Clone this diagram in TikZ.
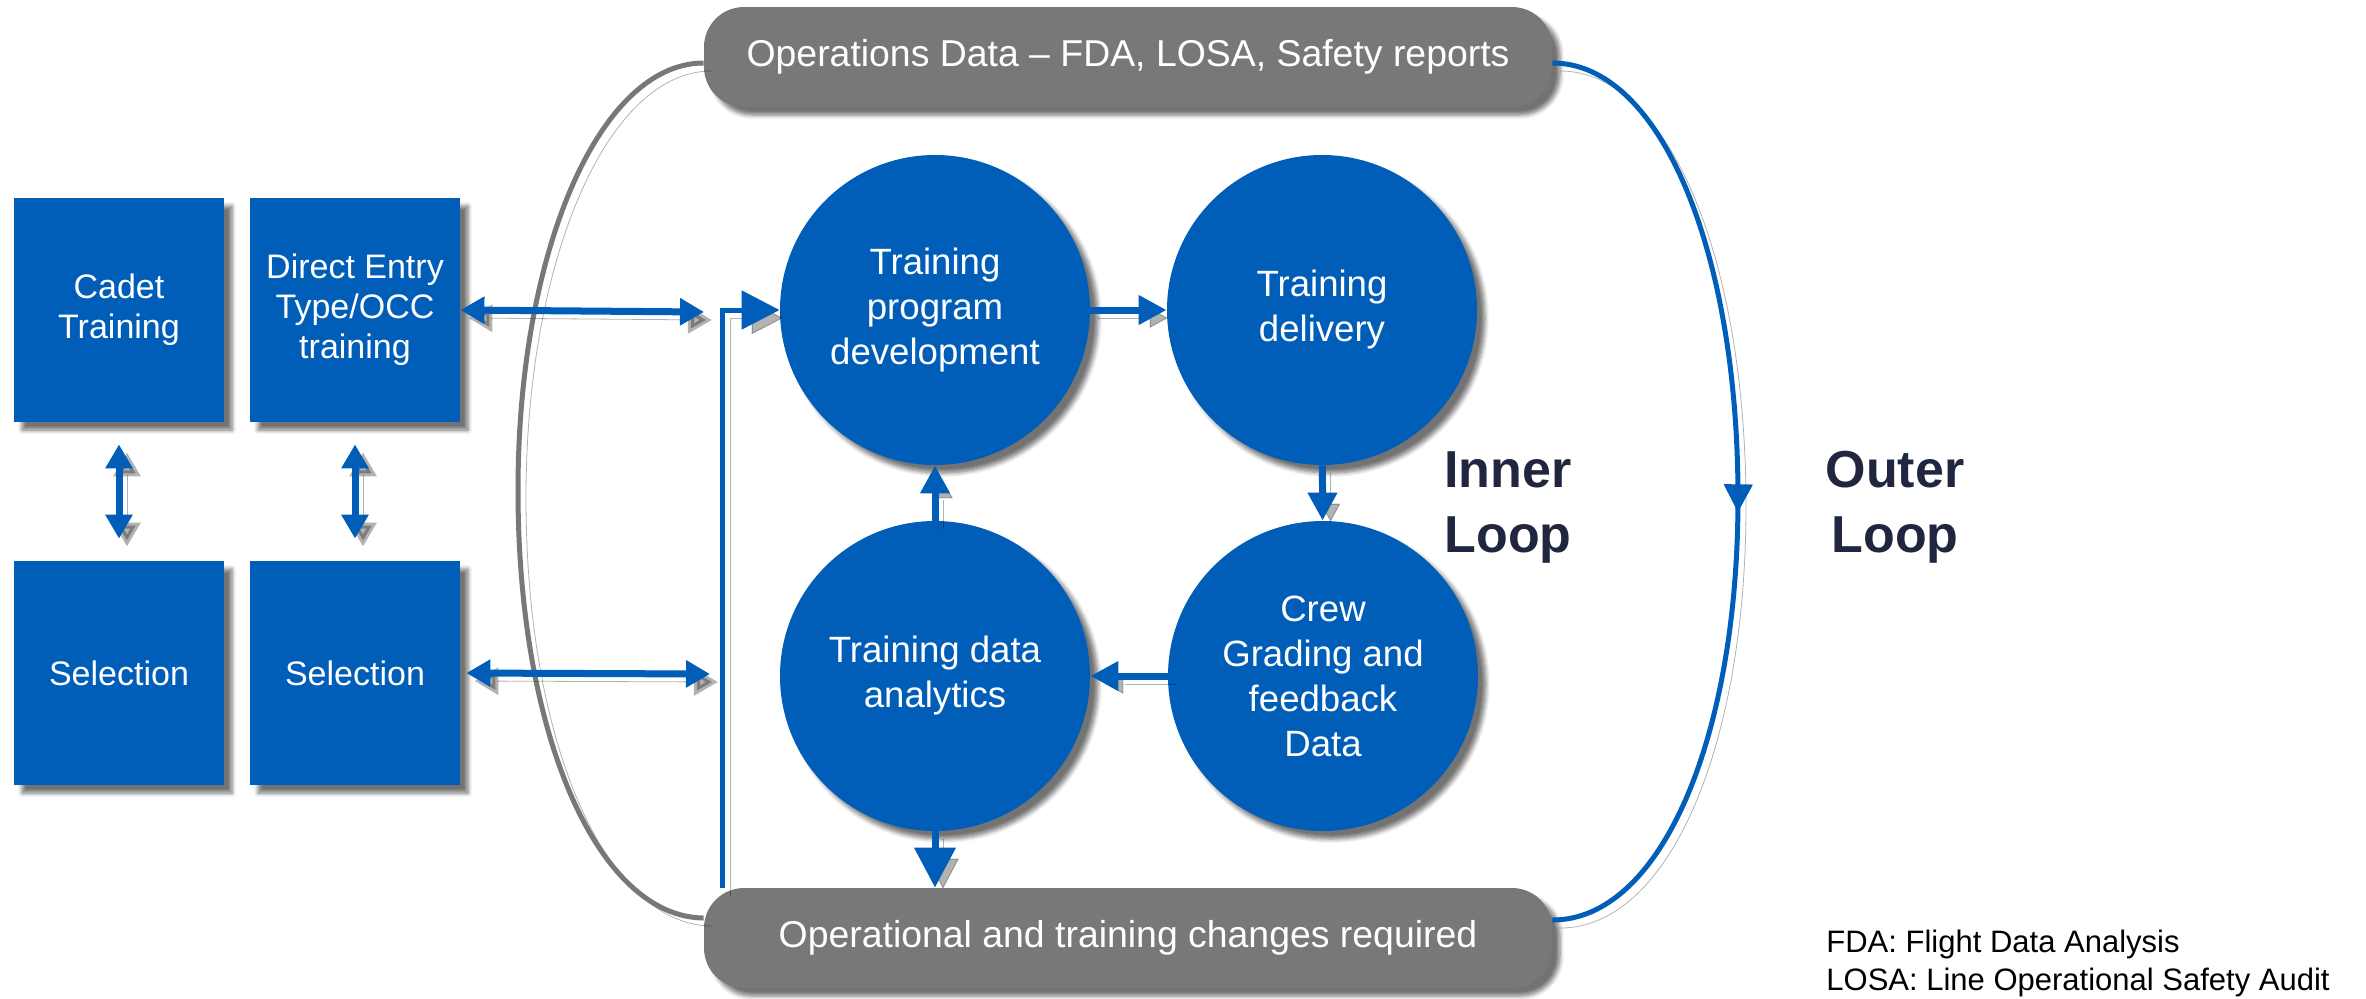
\documentclass[tikz,border=0pt]{standalone}
\usepackage{fontspec}
\setmainfont{Liberation Sans}
\usepackage{tikz}
\usetikzlibrary{arrows.meta, shadows.blur, decorations.markings}

\definecolor{flowblue}{RGB}{0,94,184}
\definecolor{pillgrey}{RGB}{120,120,120}
\definecolor{loopnavy}{RGB}{32,37,64}

\tikzset{
    softshadow/.style={blur shadow={shadow xshift=4pt, shadow yshift=-4pt, shadow blur steps=6, shadow opacity=55}},
    stage/.style={rectangle, fill=flowblue, text=white, minimum width=105pt, minimum height=112pt, align=center, font=\fontsize{17}{20}\selectfont, softshadow},
    phase/.style={circle, fill=flowblue, text=white, minimum size=155pt, inner sep=0pt, align=center, font=\fontsize{18.3}{22.5}\selectfont, softshadow},
    pill/.style={rectangle, rounded corners=20pt, fill=pillgrey, text=white, minimum width=424pt, minimum height=50pt, font=\fontsize{18.7}{22}\selectfont, softshadow},
    looplabel/.style={align=center, text=loopnavy, font=\fontsize{26}{32.5}\selectfont\bfseries},
    abbrev/.style={align=left, inner sep=0pt, font=\fontsize{15.5}{19}\selectfont},
    dropline/.style={preaction={draw=black, opacity=0.3, transform canvas={xshift=4pt, yshift=-4pt}}},
    flow/.style={draw=flowblue, line width=3.5pt, dropline, -{Triangle[length=14pt, width=14pt]}},
    bigtip/.style={-{Triangle[length=20pt, width=20pt]}},
    dbl/.style={draw=flowblue, line width=3.5pt, dropline, {Triangle[length=12pt, width=13pt]}-{Triangle[length=12pt, width=13pt]}},
    riseline/.style={draw=flowblue, line width=2.5pt, dropline, -{Triangle[length=19pt, width=19pt]}},
    outerline/.style={line width=2.5pt, dropline},
    midarrow/.style={postaction={decorate}, decoration={markings, mark=at position 0.52 with {\arrow{Triangle[length=14pt, width=14pt]}}}}
}

\begin{document}
\begin{tikzpicture}[x=0.5pt, y=0.5pt]
    \useasboundingbox (0,0) rectangle (2366,-998);
    % entry routes
    \node[stage](cadet) at (119,-310) {Cadet\\Training};
    \node[stage](direct) at (355,-310) {Direct Entry\\Type/OCC\\training};
    \node[stage](selcadet) at (119,-673) {Selection};
    \node[stage](seldirect) at (355,-673) {Selection};
    % data in and out
    \node[pill](opsdata) at (1128,-57) {Operations Data – FDA, LOSA, Safety reports};
    \node[pill](changes) at (1128,-938) {Operational and training changes required};
    % inner loop
    \node[phase](develop) at (935,-310) {Training\\program\\development};
    \node[phase](deliver) at (1322,-310) {Training\\delivery};
    \node[phase](grading) at (1323,-676) {Crew\\Grading and\\feedback\\Data};
    \node[phase](analytics) at (935,-676) {Training data\\analytics};
    % labels
    \node[looplabel](inner) at (1508,-507) {Inner\\Loop};
    \node[looplabel](outer) at (1895,-507) {Outer\\Loop};
    \node[abbrev, anchor=north west](abbr) at (1826,-930) {FDA: Flight Data Analysis\\LOSA: Line Operational Safety Audit};
    % free ends
    \coordinate (directend) at (704,-312);
    \coordinate (selend) at (710,-674);
    \coordinate (riser) at (722,-888);
    % outer loop
    \draw[outerline, draw=pillgrey] ([yshift=-3pt]opsdata.west) .. controls (600,-63) and (518,-250) .. (518,-490)
        .. controls (518,-740) and (600,-917) .. ([yshift=10pt]changes.west);
    \draw[outerline, draw=flowblue, midarrow] ([yshift=-3pt]opsdata.east) .. controls (1660,-63) and (1738,-250) .. (1738,-498)
        .. controls (1738,-740) and (1660,-920) .. ([yshift=9pt]changes.east);
    % entry links
    \draw[dbl] (direct.east) -- (directend);
    \draw[dbl] ([xshift=3pt]seldirect.east) -- (selend);
    \draw[dbl, shorten >=11pt, shorten <=11pt] (cadet) -- (selcadet);
    \draw[dbl, shorten >=11pt, shorten <=11pt] (direct) -- (seldirect);
    \draw[riseline] (riser) |- (develop.west);
    % Transitions
    \path
        (develop)
            edge [flow] (deliver)
        (deliver)
            edge [flow] (grading)
        (grading)
            edge [flow] (analytics)
        (analytics)
            edge [flow] (develop)
        (analytics.south)
            edge [flow, bigtip] (analytics.south |- changes.north)
        ;
\end{tikzpicture}
\end{document}
